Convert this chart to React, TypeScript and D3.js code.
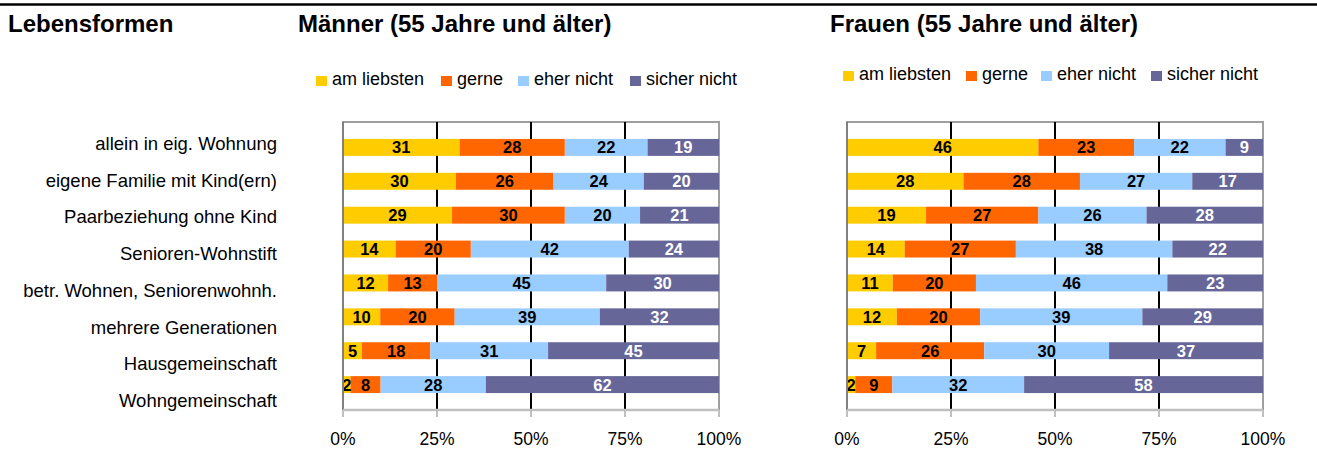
import * as d3 from 'd3';

const W = 1317;
const H = 450;
const FONT = 'Liberation Sans, Arial, sans-serif';

const categories = [
  'allein in eig. Wohnung',
  'eigene Familie mit Kind(ern)',
  'Paarbeziehung ohne Kind',
  'Senioren-Wohnstift',
  'betr. Wohnen, Seniorenwohnh.',
  'mehrere Generationen',
  'Hausgemeinschaft',
  'Wohngemeinschaft',
];

const seriesNames = ['am liebsten', 'gerne', 'eher nicht', 'sicher nicht'];
const seriesColors = ['#FFCC00', '#FF6600', '#99CCFF', '#666699'];
const labelColors = ['#000000', '#000000', '#000000', '#ffffff'];

// Männer (55 Jahre und älter)
const maennerAmLiebsten = [31, 30, 29, 14, 12, 10, 5, 2];
const maennerGerne = [28, 26, 30, 20, 13, 20, 18, 8];
const maennerEherNicht = [22, 24, 20, 42, 45, 39, 31, 28];
const maennerSicherNicht = [19, 20, 21, 24, 30, 32, 45, 62];

// Frauen (55 Jahre und älter)
const frauenAmLiebsten = [46, 28, 19, 14, 11, 12, 7, 2];
const frauenGerne = [23, 28, 27, 27, 20, 20, 26, 9];
const frauenEherNicht = [22, 27, 26, 38, 46, 39, 30, 32];
const frauenSicherNicht = [9, 17, 28, 22, 23, 29, 37, 58];

const ticks = [0, 0.25, 0.5, 0.75, 1];

const buildRows = (cols: number[][]) =>
  categories.map((c, i) => {
    const row: any = { cat: c };
    seriesNames.forEach((s, j) => (row[s] = cols[j][i]));
    return row;
  });

const PLOT_TOP = 122;
const PLOT_BOTTOM = 410;

const yScale = d3.scaleBand().domain(categories).range([PLOT_TOP, PLOT_BOTTOM]).padding(0.5);

type PanelProps = {
  title: string;
  titleX: number;
  left: number;
  right: number;
  legendX: number;
  legendY: number;
  legendOffsets: number[];
  cols: number[][];
};

const Panel = ({ title, titleX, left, right, legendX, legendY, legendOffsets, cols }: PanelProps) => {
  const xScale = d3.scaleLinear().domain([0, 1]).range([left, right]);
  const rows = buildRows(cols);
  // 100% stacked, like the original (rows that don't sum to 100 get normalised)
  const stacked = d3.stack<any>().keys(seriesNames).offset(d3.stackOffsetExpand)(rows);

  return (
    <g>
      <text x={titleX} y={32} fontSize={24} fontWeight="bold" fontFamily={FONT}>
        {title}
      </text>

      {/* legend */}
      {seriesNames.map((s, i) => (
        <g key={s} transform={`translate(${legendX + legendOffsets[i]},${legendY})`}>
          <rect x={0} y={-9} width={11} height={10} fill={seriesColors[i]} />
          <text x={16} y={0} fontSize={18} fontFamily={FONT} fill="#000">
            {s}
          </text>
        </g>
      ))}

      {/* plot frame */}
      <rect
        x={left}
        y={PLOT_TOP}
        width={right - left}
        height={PLOT_BOTTOM - PLOT_TOP}
        fill="#fff"
        stroke="#a0a0a0"
        strokeWidth={2}
      />

      {/* gridlines */}
      {ticks.slice(1, -1).map(t => (
        <line
          key={t}
          x1={xScale(t)}
          x2={xScale(t)}
          y1={PLOT_TOP}
          y2={PLOT_BOTTOM}
          stroke="#000"
          strokeWidth={2}
        />
      ))}

      {/* bars */}
      {stacked.map((layer, si) => (
        <g key={layer.key}>
          {layer.map((d, i) => {
            const x0 = xScale(d[0]);
            const x1 = xScale(d[1]);
            const y = yScale(categories[i]) ?? 0;
            return (
              <rect
                key={i}
                x={x0}
                y={y}
                width={x1 - x0}
                height={yScale.bandwidth()}
                fill={seriesColors[si]}
              />
            );
          })}
        </g>
      ))}

      {/* bar labels */}
      {stacked.map((layer, si) => (
        <g key={layer.key}>
          {layer.map((d, i) => {
            const x0 = xScale(d[0]);
            const x1 = xScale(d[1]);
            const y = (yScale(categories[i]) ?? 0) + yScale.bandwidth() / 2;
            return (
              <text
                key={i}
                x={(x0 + x1) / 2}
                y={y}
                dy="0.36em"
                textAnchor="middle"
                fontSize={16.5}
                fontWeight="bold"
                fontFamily={FONT}
                fill={labelColors[si]}
              >
                {d.data[seriesNames[si]]}
              </text>
            );
          })}
        </g>
      ))}

      {/* left border & bottom axis */}
      <line x1={left} x2={left} y1={PLOT_TOP} y2={PLOT_BOTTOM} stroke="#808080" strokeWidth={2} />
      <line x1={left} x2={right} y1={PLOT_BOTTOM} y2={PLOT_BOTTOM} stroke="#c0c0c0" strokeWidth={2.5} />
      {ticks.map(t => (
        <g key={t}>
          <line
            x1={xScale(t)}
            x2={xScale(t)}
            y1={PLOT_BOTTOM}
            y2={PLOT_BOTTOM + 7}
            stroke="#c0c0c0"
            strokeWidth={2}
          />
          <text
            x={xScale(t)}
            y={445}
            textAnchor="middle"
            fontSize={17.5}
            fontFamily={FONT}
            fill="#000"
          >
            {d3.format('.0%')(t)}
          </text>
        </g>
      ))}
    </g>
  );
};

// row labels sit on their own slightly wider spacing than the bars
const labelScale = d3.scalePoint().domain(categories).range([150, 407]);

export default function App() {
  return (
    <svg
      width={W}
      height={H}
      style={{ position: 'absolute', left: 0, top: 0, background: '#fff' }}
    >
      <rect width={W} height={H} fill="#fff" />
      <line x1={0} x2={W} y1={4.5} y2={4.5} stroke="#000" strokeWidth={2.5} />
      <text x={8} y={32} fontSize={24} fontWeight="bold" fontFamily={FONT}>
        Lebensformen
      </text>

      {categories.map(c => (
        <text
          key={c}
          x={277}
          y={labelScale(c)}
          textAnchor="end"
          fontSize={18.5}
          fontFamily={FONT}
          fill="#000"
        >
          {c}
        </text>
      ))}

      <Panel
        title="Männer (55 Jahre und älter)"
        titleX={298}
        left={343}
        right={719}
        legendX={316}
        legendY={85}
        legendOffsets={[0, 125, 202, 314]}
        cols={[maennerAmLiebsten, maennerGerne, maennerEherNicht, maennerSicherNicht]}
      />
      <Panel
        title="Frauen (55 Jahre und älter)"
        titleX={830}
        left={847}
        right={1263}
        legendX={843}
        legendY={80}
        legendOffsets={[0, 123, 198, 308]}
        cols={[frauenAmLiebsten, frauenGerne, frauenEherNicht, frauenSicherNicht]}
      />
    </svg>
  );
}
